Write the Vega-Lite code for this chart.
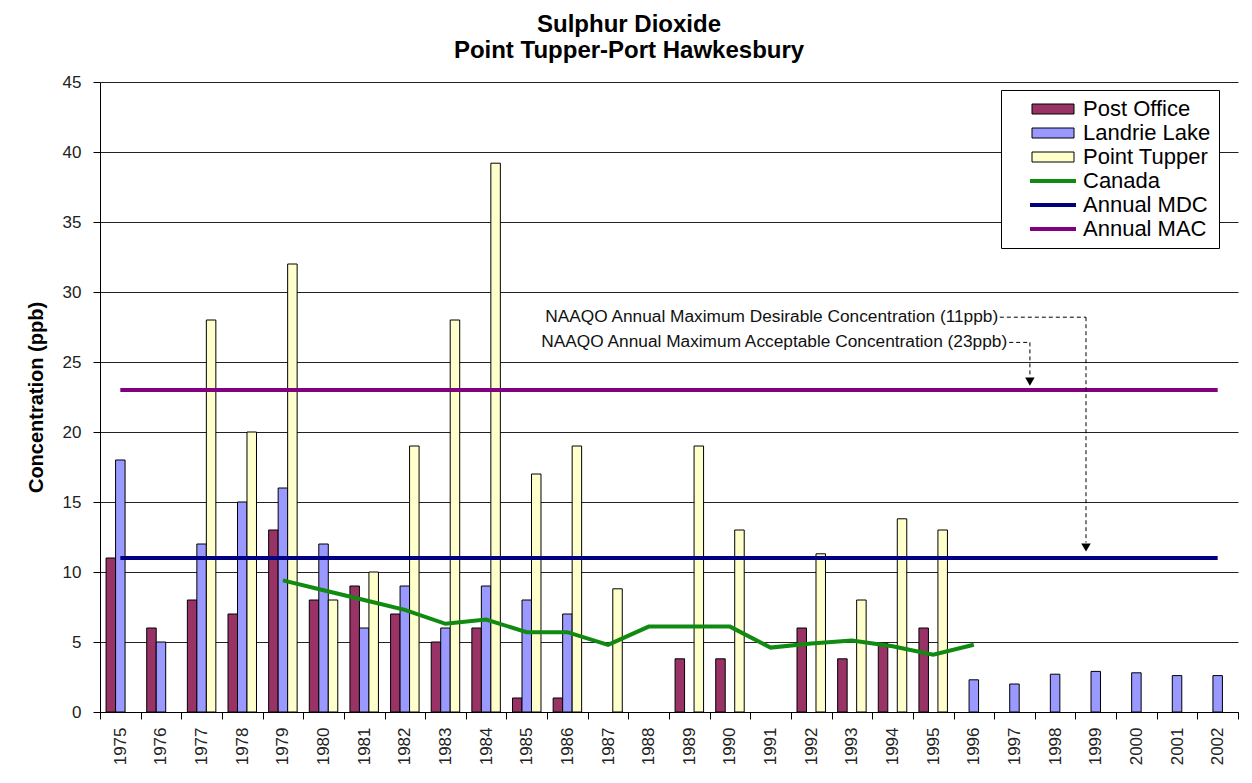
{
  "$schema": "https://vega.github.io/schema/vega-lite/v6.json",
  "width": 1138,
  "height": 630,
  "autosize": {"type": "none"},
  "padding": {"left": 100, "top": 82, "right": 14, "bottom": 71},
  "background": "white",
  "config": {"font": "Liberation Sans", "view": {"stroke": null}},
  "title": {
    "text": ["Sulphur Dioxide", "Point Tupper-Port Hawkesbury"],
    "font": "Liberation Sans",
    "fontSize": 24,
    "fontWeight": "bold",
    "color": "black",
    "anchor": "middle",
    "dx": -40,
    "offset": 10,
    "lineHeight": 26
  },
  "datasets": {
    "readings": [
      {"year": 1975, "station": "Post Office", "ppb": 11},
      {"year": 1975, "station": "Landrie Lake", "ppb": 18},
      {"year": 1976, "station": "Post Office", "ppb": 6},
      {"year": 1976, "station": "Landrie Lake", "ppb": 5},
      {"year": 1977, "station": "Post Office", "ppb": 8},
      {"year": 1977, "station": "Landrie Lake", "ppb": 12},
      {"year": 1977, "station": "Point Tupper", "ppb": 28},
      {"year": 1978, "station": "Post Office", "ppb": 7},
      {"year": 1978, "station": "Landrie Lake", "ppb": 15},
      {"year": 1978, "station": "Point Tupper", "ppb": 20},
      {"year": 1979, "station": "Post Office", "ppb": 13},
      {"year": 1979, "station": "Landrie Lake", "ppb": 16},
      {"year": 1979, "station": "Point Tupper", "ppb": 32},
      {"year": 1980, "station": "Post Office", "ppb": 8},
      {"year": 1980, "station": "Landrie Lake", "ppb": 12},
      {"year": 1980, "station": "Point Tupper", "ppb": 8},
      {"year": 1981, "station": "Post Office", "ppb": 9},
      {"year": 1981, "station": "Landrie Lake", "ppb": 6},
      {"year": 1981, "station": "Point Tupper", "ppb": 10},
      {"year": 1982, "station": "Post Office", "ppb": 7},
      {"year": 1982, "station": "Landrie Lake", "ppb": 9},
      {"year": 1982, "station": "Point Tupper", "ppb": 19},
      {"year": 1983, "station": "Post Office", "ppb": 5},
      {"year": 1983, "station": "Landrie Lake", "ppb": 6},
      {"year": 1983, "station": "Point Tupper", "ppb": 28},
      {"year": 1984, "station": "Post Office", "ppb": 6},
      {"year": 1984, "station": "Landrie Lake", "ppb": 9},
      {"year": 1984, "station": "Point Tupper", "ppb": 39.2},
      {"year": 1985, "station": "Post Office", "ppb": 1},
      {"year": 1985, "station": "Landrie Lake", "ppb": 8},
      {"year": 1985, "station": "Point Tupper", "ppb": 17},
      {"year": 1986, "station": "Post Office", "ppb": 1},
      {"year": 1986, "station": "Landrie Lake", "ppb": 7},
      {"year": 1986, "station": "Point Tupper", "ppb": 19},
      {"year": 1987, "station": "Point Tupper", "ppb": 8.8},
      {"year": 1989, "station": "Post Office", "ppb": 3.8},
      {"year": 1989, "station": "Point Tupper", "ppb": 19},
      {"year": 1990, "station": "Post Office", "ppb": 3.8},
      {"year": 1990, "station": "Point Tupper", "ppb": 13},
      {"year": 1992, "station": "Post Office", "ppb": 6},
      {"year": 1992, "station": "Point Tupper", "ppb": 11.3},
      {"year": 1993, "station": "Post Office", "ppb": 3.8},
      {"year": 1993, "station": "Point Tupper", "ppb": 8},
      {"year": 1994, "station": "Post Office", "ppb": 4.9},
      {"year": 1994, "station": "Point Tupper", "ppb": 13.8},
      {"year": 1995, "station": "Post Office", "ppb": 6},
      {"year": 1995, "station": "Point Tupper", "ppb": 13},
      {"year": 1996, "station": "Landrie Lake", "ppb": 2.3},
      {"year": 1997, "station": "Landrie Lake", "ppb": 2.0},
      {"year": 1998, "station": "Landrie Lake", "ppb": 2.7},
      {"year": 1999, "station": "Landrie Lake", "ppb": 2.9},
      {"year": 2000, "station": "Landrie Lake", "ppb": 2.8},
      {"year": 2001, "station": "Landrie Lake", "ppb": 2.6},
      {"year": 2002, "station": "Landrie Lake", "ppb": 2.6}
    ],
    "canada": [
      {"year": 1979, "series": "Canada", "ppb": 9.4},
      {"year": 1980, "series": "Canada", "ppb": 8.7},
      {"year": 1981, "series": "Canada", "ppb": 8.0},
      {"year": 1982, "series": "Canada", "ppb": 7.3},
      {"year": 1983, "series": "Canada", "ppb": 6.3},
      {"year": 1984, "series": "Canada", "ppb": 6.6},
      {"year": 1985, "series": "Canada", "ppb": 5.7},
      {"year": 1986, "series": "Canada", "ppb": 5.7},
      {"year": 1987, "series": "Canada", "ppb": 4.8},
      {"year": 1988, "series": "Canada", "ppb": 6.1},
      {"year": 1989, "series": "Canada", "ppb": 6.1},
      {"year": 1990, "series": "Canada", "ppb": 6.1},
      {"year": 1991, "series": "Canada", "ppb": 4.6},
      {"year": 1992, "series": "Canada", "ppb": 4.9},
      {"year": 1993, "series": "Canada", "ppb": 5.1},
      {"year": 1994, "series": "Canada", "ppb": 4.7},
      {"year": 1995, "series": "Canada", "ppb": 4.1},
      {"year": 1996, "series": "Canada", "ppb": 4.8}
    ],
    "objectives": [
      {"year": 1975, "series": "Annual MDC", "ppb": 11},
      {"year": 2002, "series": "Annual MDC", "ppb": 11},
      {"year": 1975, "series": "Annual MAC", "ppb": 23},
      {"year": 2002, "series": "Annual MAC", "ppb": 23}
    ],
    "leaders": [
      {"from": 1996.64, "to": 1998.76, "top": 28.2, "bottom": 28.2},
      {"from": 1998.76, "to": 1998.76, "top": 28.2, "bottom": 12.1},
      {"from": 1996.87, "to": 1997.38, "top": 26.4, "bottom": 26.4},
      {"from": 1997.38, "to": 1997.38, "top": 26.4, "bottom": 24.0}
    ],
    "notes": [
      {"at": 1996.6, "ppb": 28.2, "note": "NAAQO Annual Maximum Desirable Concentration (11ppb)"},
      {"at": 1996.82, "ppb": 26.4, "note": "NAAQO Annual Maximum Acceptable Concentration (23ppb)"}
    ],
    "arrowheads": [
      {"at": 1998.76, "ppb": 11.75},
      {"at": 1997.38, "ppb": 23.6}
    ]
  },
  "layer": [
    {
      "layer": [
        {
          "data": {"name": "readings"},
          "mark": {"type": "bar", "stroke": "black", "strokeWidth": 1},
          "encoding": {
            "x": {
              "field": "year",
              "type": "ordinal",
              "scale": {
                "domain": [1975, 1976, 1977, 1978, 1979, 1980, 1981, 1982, 1983, 1984, 1985, 1986, 1987, 1988, 1989, 1990, 1991, 1992, 1993, 1994, 1995, 1996, 1997, 1998, 1999, 2000, 2001, 2002],
                "paddingInner": 0,
                "paddingOuter": 0
              },
              "axis": {
                "title": null,
                "labelAngle": -90,
                "labelFont": "Liberation Sans",
                "labelFontSize": 17,
                "labelColor": "#222",
                "labelPadding": 8,
                "tickBand": "extent",
                "tickSize": 7,
                "tickColor": "black",
                "domainColor": "black",
                "grid": false
              }
            },
            "xOffset": {
              "field": "station",
              "type": "nominal",
              "scale": {"domain": ["Post Office", "Landrie Lake", "Point Tupper"], "paddingInner": 0, "paddingOuter": 0.64}
            },
            "y": {
              "field": "ppb",
              "type": "quantitative",
              "scale": {"domain": [0, 45], "nice": false},
              "axis": {
                "title": "Concentration (ppb)",
                "titleFont": "Liberation Sans",
                "titleFontSize": 20,
                "titleFontWeight": "bold",
                "titleColor": "black",
                "titlePadding": 16,
                "labelFont": "Liberation Sans",
                "labelFontSize": 17,
                "labelColor": "#222",
                "labelPadding": 12,
                "tickSize": 7,
                "tickColor": "black",
                "domainColor": "black",
                "values": [0, 5, 10, 15, 20, 25, 30, 35, 40, 45],
                "grid": true,
                "gridColor": "#222"
              }
            },
            "color": {
              "field": "station",
              "type": "nominal",
              "scale": {
                "domain": ["Post Office", "Landrie Lake", "Point Tupper", "Canada", "Annual MDC", "Annual MAC"],
                "range": ["#993366", "#9999FF", "#FFFFCC", "white", "white", "white"]
              },
              "legend": {
                "title": null,
                "orient": "none",
                "legendX": 901,
                "legendY": 8,
                "zindex": 1,
                "strokeColor": "black",
                "fillColor": "white",
                "padding": 8,
                "labelFont": "Liberation Sans",
                "labelFontSize": 22,
                "labelColor": "black",
                "labelExpr": "indexof(['Canada','Annual MDC','Annual MAC'], datum.label) >= 0 ? '' : datum.label",
                "symbolType": "M-4.2,-1H4.2V1H-4.2Z",
                "symbolSize": 100,
                "symbolStrokeWidth": 1,
                "symbolOffset": 33,
                "labelOffset": 19,
                "rowPadding": 2
              }
            }
          }
        },
        {
          "data": {"name": "canada"},
          "mark": {"type": "line", "strokeWidth": 4},
          "encoding": {
            "x": {"field": "year", "type": "ordinal"},
            "y": {"field": "ppb", "type": "quantitative"},
            "stroke": {
              "field": "series",
              "type": "nominal",
              "scale": {"domain": ["Canada", "Annual MDC", "Annual MAC"], "range": ["#118A11", "#000080", "#800080"]},
              "legend": {
                "title": null,
                "orient": "none",
                "legendX": 909,
                "legendY": 88,
                "zindex": 2,
                "strokeColor": null,
                "fillColor": "white",
                "padding": 0,
                "labelFont": "Liberation Sans",
                "labelFontSize": 22,
                "labelColor": "black",
                "symbolType": "M-4.6,0H4.6",
                "symbolSize": 100,
                "symbolStrokeWidth": 4,
                "symbolOffset": 33,
                "labelOffset": 19,
                "rowPadding": 2
              }
            }
          }
        },
        {
          "data": {"name": "objectives"},
          "mark": {"type": "line", "strokeWidth": 4},
          "encoding": {
            "x": {"field": "year", "type": "ordinal"},
            "y": {"field": "ppb", "type": "quantitative"},
            "stroke": {"field": "series", "type": "nominal"},
            "detail": {"field": "series"}
          }
        }
      ]
    },
    {
      "layer": [
        {
          "data": {"name": "leaders"},
          "mark": {"type": "rule", "color": "black", "strokeWidth": 1, "strokeDash": [4, 3]},
          "encoding": {
            "x": {"field": "from", "type": "quantitative", "scale": {"domain": [1974.5, 2002.5], "nice": false, "zero": false}, "axis": null},
            "x2": {"field": "to"},
            "y": {"field": "top", "type": "quantitative"},
            "y2": {"field": "bottom"}
          }
        },
        {
          "data": {"name": "notes"},
          "mark": {"type": "text", "align": "right", "baseline": "middle", "font": "Liberation Sans", "fontSize": 17.3, "color": "#111"},
          "encoding": {
            "x": {"field": "at", "type": "quantitative", "axis": null},
            "y": {"field": "ppb", "type": "quantitative"},
            "text": {"field": "note"}
          }
        },
        {
          "data": {"name": "arrowheads"},
          "mark": {"type": "point", "shape": "triangle-down", "filled": true, "color": "black", "size": 90, "opacity": 1},
          "encoding": {
            "x": {"field": "at", "type": "quantitative", "axis": null},
            "y": {"field": "ppb", "type": "quantitative"}
          }
        }
      ]
    }
  ],
  "resolve": {"scale": {"x": "independent"}}
}
